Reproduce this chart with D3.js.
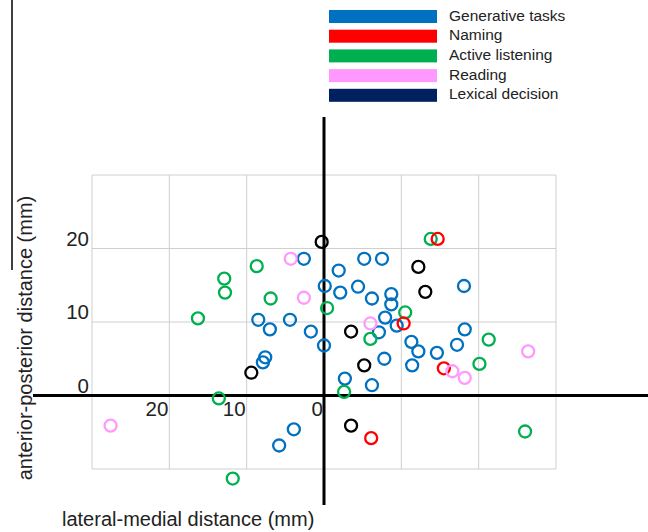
<!DOCTYPE html>
<html>
<head>
<meta charset="utf-8">
<script src="https://cdn.jsdelivr.net/npm/d3@7"></script>
<style>
  body { margin: 0; background: #fff; }
  text { font-family: Arial, "Liberation Sans", sans-serif; }
</style>
</head>
<body>
<div id="my_dataviz"></div>
<script>
// lateral-medial distance (mm, lateral = left/positive) and anterior-posterior distance (mm)
var generativeX = [2.6, -5.2, -7.5, -1.9, -18.1, -0.1, -4.4, -2.1, -8.7, -6.2, -8.7, 8.5, 4.4, 7.0, 1.7, -7.9, -9.4, -7.1, -18.2, 0.0, -11.3, -17.2, -12.2, -14.6, -7.8, -11.4, 7.6, 7.9, -2.7, -6.2, 3.9, 5.8];
var generativeY = [18.6, 18.6, 18.6, 17.0, 14.9, 14.9, 14.8, 14.0, 13.8, 13.2, 12.4, 10.3, 10.3, 9.0, 8.7, 10.6, 9.5, 8.6, 9.0, 6.8, 7.3, 6.9, 6.0, 5.8, 5.0, 4.1, 5.2, 4.5, 2.3, 1.4, -4.6, -6.8];
var listeningX = [-13.8, 8.7, 12.9, 12.8, 6.9, -0.4, 16.3, -10.5, -6.0, -21.3, -20.1, -2.6, 13.6, -26.0, 11.8];
var listeningY = [21.3, 17.6, 15.9, 14.0, 13.2, 11.9, 10.5, 11.3, 7.7, 7.6, 4.3, 0.5, -0.4, -4.9, -11.3];
var namingX = [-14.7, -10.3, -15.5, -6.1];
var namingY = [21.3, 9.8, 3.7, -5.8];
var readingX = [4.3, 2.6, -6.0, -26.4, -16.6, -18.2, 27.6];
var readingY = [18.6, 13.3, 9.8, 6.0, 3.3, 2.4, -4.1];
var lexicalX = [0.3, -12.2, -13.1, -3.5, -5.2, 9.4, -3.5];
var lexicalY = [20.9, 17.5, 14.1, 8.7, 4.1, 3.1, -4.1];

var legendLabels = ["Generative tasks", "Naming", "Active listening", "Reading", "Lexical decision"];
var legendColors = ["#0070c0", "#ff0000", "#00b050", "#ff99ff", "#002060"];

var gridX = [30, 20, 10, 0, -10, -20, -30];
var gridY = [-10, 0, 10, 20, 30];
var tickX = [20, 10, 0];
var tickY = [20, 10, 0];

var svg = d3.select("#my_dataviz").append("svg").attr("width", 648).attr("height", 532);

var x = d3.scaleLinear().domain([30, -30]).range([92, 556]);
var y = d3.scaleLinear().domain([-10, 30]).range([469, 175]);

// grid
svg.selectAll(".gx").data(gridX).enter().append("line")
  .attr("x1", d => x(d)).attr("x2", d => x(d))
  .attr("y1", y(30)).attr("y2", y(-10))
  .style("stroke", "#cfcfcf").style("stroke-width", 1);
svg.selectAll(".gy").data(gridY).enter().append("line")
  .attr("x1", x(30)).attr("x2", x(-30))
  .attr("y1", d => y(d)).attr("y2", d => y(d))
  .style("stroke", "#cfcfcf").style("stroke-width", 1);

// thick axes through zero
svg.append("line").attr("x1", 33).attr("x2", 648).attr("y1", y(0)).attr("y2", y(0))
  .style("stroke", "#000").style("stroke-width", 3);
svg.append("line").attr("x1", x(0)).attr("x2", x(0)).attr("y1", 117).attr("y2", 505)
  .style("stroke", "#000").style("stroke-width", 3);

// stray line at left edge
svg.append("line").attr("x1", 12).attr("x2", 12).attr("y1", 0).attr("y2", 270)
  .style("stroke", "#000").style("stroke-width", 1.5);

// tick labels
svg.selectAll(".tx").data(tickX).enter().append("text")
  .attr("x", d => x(d) - 1).attr("y", y(0) + 20)
  .attr("text-anchor", "end").style("font-size", "20.5px").style("fill", "#222")
  .text(d => d);
svg.selectAll(".ty").data(tickY).enter().append("text")
  .attr("x", 89).attr("y", d => y(d) - 3)
  .attr("text-anchor", "end").style("font-size", "20.5px").style("fill", "#222")
  .text(d => d);

// axis titles
svg.append("text").attr("x", 62).attr("y", 526)
  .style("font-size", "20px").style("fill", "#222")
  .text("lateral-medial distance (mm)");
svg.append("text").attr("transform", "translate(32,338) rotate(-90)")
  .attr("text-anchor", "middle")
  .style("font-size", "20px").style("fill", "#222")
  .text("anterior-posterior distance (mm)");

// points
function drawGroup(xs, ys, color) {
  svg.append("g").selectAll("circle").data(xs).enter().append("circle")
    .attr("cx", d => x(d)).attr("cy", (d, i) => y(ys[i])).attr("r", 6)
    .style("fill", "none").style("stroke", color).style("stroke-width", 2.3);
}
drawGroup(generativeX, generativeY, legendColors[0]);
drawGroup(listeningX, listeningY, legendColors[2]);
drawGroup(namingX, namingY, legendColors[1]);
drawGroup(readingX, readingY, legendColors[3]);
drawGroup(lexicalX, lexicalY, "#000");

// legend
var legend = svg.append("g");
legend.selectAll("rect").data(legendLabels).enter().append("rect")
  .attr("x", 329).attr("y", (d, i) => 10 + i * 19.7)
  .attr("width", 108).attr("height", 13)
  .style("fill", (d, i) => legendColors[i]);
legend.selectAll("text").data(legendLabels).enter().append("text")
  .attr("x", 449).attr("y", (d, i) => 16.5 + i * 19.7)
  .attr("dominant-baseline", "middle")
  .style("font-size", "15.5px").style("fill", "#222")
  .text(d => d);
</script>
</body>
</html>
